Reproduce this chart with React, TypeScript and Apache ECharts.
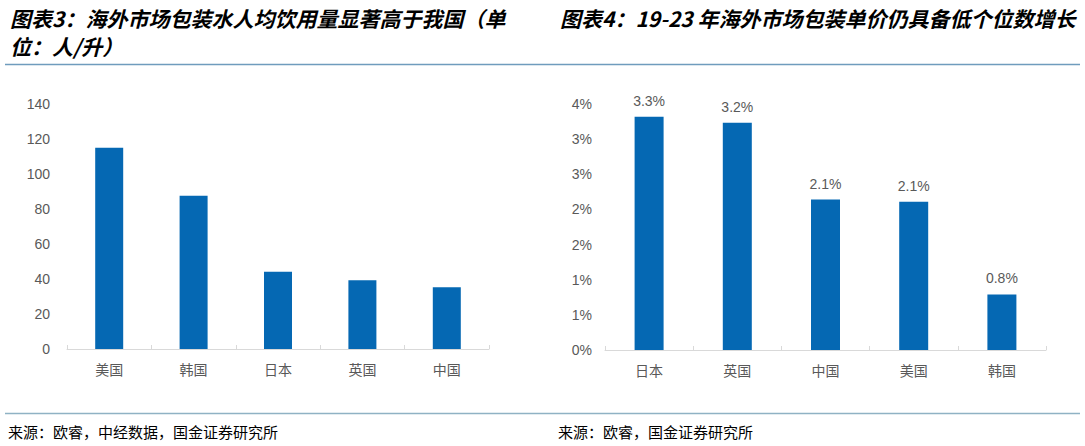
import React, { useEffect, useRef } from "react";
import * as echarts from "echarts";

const leftCategories = ["美国", "韩国", "日本", "英国", "中国"];
const leftValues = [115, 87.6, 44.2, 39.3, 35.3];

const rightCategories = ["日本", "英国", "中国", "美国", "韩国"];
const rightValues = [3.32, 3.235, 2.14, 2.11, 0.79];

const leftTitle1 = "图表3：海外市场包装水人均饮用量显著高于我国（单";
const leftTitle2 = "位：人/升）";
const rightTitle = "图表4：19-23 年海外市场包装单价仍具备低个位数增长";
const leftSource = "来源：欧睿，中经数据，国金证券研究所";
const rightSource = "来源：欧睿，国金证券研究所";

const NUM_FONT = "'Liberation Sans', Arial, 'Noto Sans CJK SC', sans-serif";
const CJK_FONT = "'Noto Sans CJK SC', sans-serif";
const LABEL_COLOR = "#595959";
const BAR_COLOR = "#0568b3";

export default function App() {
  const ref = useRef<HTMLDivElement>(null);
  useEffect(() => {
    if (!ref.current) return;
    const chart = echarts.init(ref.current, null, { renderer: "svg" });
    const catAxis = (gridIndex: number, data: string[]) => ({
      type: "category",
      gridIndex,
      data,
      axisLine: { show: true, lineStyle: { color: "#d9d9d9", width: 1 } },
      axisTick: { show: true, inside: true, length: 4, alignWithLabel: false, lineStyle: { color: "#d9d9d9" } },
      axisLabel: { color: LABEL_COLOR, fontSize: 14, fontFamily: NUM_FONT, margin: 14 },
    });
    chart.setOption({
      animation: false,
      backgroundColor: "#ffffff",
      grid: [
        { left: 67, right: 596, top: 104, bottom: 97 },
        { left: 605, right: 39, top: 104, bottom: 96 },
      ],
      xAxis: [catAxis(0, leftCategories), catAxis(1, rightCategories)],
      yAxis: [
        {
          type: "value",
          gridIndex: 0,
          min: 0,
          max: 140,
          interval: 20,
          axisLine: { show: false },
          axisTick: { show: false },
          splitLine: { show: false },
          axisLabel: { color: LABEL_COLOR, fontSize: 14, fontFamily: NUM_FONT, margin: 17 },
        },
        {
          type: "value",
          gridIndex: 1,
          min: 0,
          max: 3.5,
          interval: 0.5,
          axisLine: { show: false },
          axisTick: { show: false },
          splitLine: { show: false },
          axisLabel: {
            color: LABEL_COLOR,
            fontSize: 14,
            fontFamily: NUM_FONT,
            margin: 13,
            formatter: (v: number) => Math.round(v + 1e-9) + "%",
          },
        },
      ],
      series: [
        {
          type: "bar",
          xAxisIndex: 0,
          yAxisIndex: 0,
          data: leftValues,
          barWidth: 28,
          itemStyle: { color: BAR_COLOR },
        },
        {
          type: "bar",
          xAxisIndex: 1,
          yAxisIndex: 1,
          data: rightValues,
          barWidth: 29,
          itemStyle: { color: BAR_COLOR },
          label: {
            show: true,
            position: "top",
            distance: 9,
            color: LABEL_COLOR,
            fontSize: 14,
            fontFamily: NUM_FONT,
            formatter: (p: any) => (p.value as number).toFixed(1) + "%",
          },
        },
      ],
      graphic: [
        {
          type: "text",
          left: 10,
          top: 7,
          style: { text: leftTitle1, font: `italic bold 21px ${CJK_FONT}`, fill: "#000" },
        },
        {
          type: "text",
          left: 10,
          top: 35,
          style: { text: leftTitle2, font: `italic bold 21px ${CJK_FONT}`, fill: "#000" },
        },
        {
          type: "text",
          left: 560,
          top: 7,
          style: { text: rightTitle, font: `italic bold 21px ${CJK_FONT}`, fill: "#000" },
        },
        {
          type: "line",
          shape: { x1: 5, y1: 64.5, x2: 1080, y2: 64.5 },
          style: { stroke: "#6f9cbd", lineWidth: 1.5 },
        },
        {
          type: "line",
          shape: { x1: 5, y1: 413.5, x2: 1080, y2: 413.5 },
          style: { stroke: "#8fb2c4", lineWidth: 1.5 },
        },
        {
          type: "text",
          left: 8,
          top: 424,
          style: { text: leftSource, font: `15px ${CJK_FONT}`, fill: "#000" },
        },
        {
          type: "text",
          left: 558,
          top: 424,
          style: { text: rightSource, font: `15px ${CJK_FONT}`, fill: "#000" },
        },
      ],
    });
    return () => chart.dispose();
  }, []);
  return (
    <div
      ref={ref}
      style={{ position: "fixed", left: 0, top: 0, width: 1085, height: 446, background: "#fff" }}
    />
  );
}
